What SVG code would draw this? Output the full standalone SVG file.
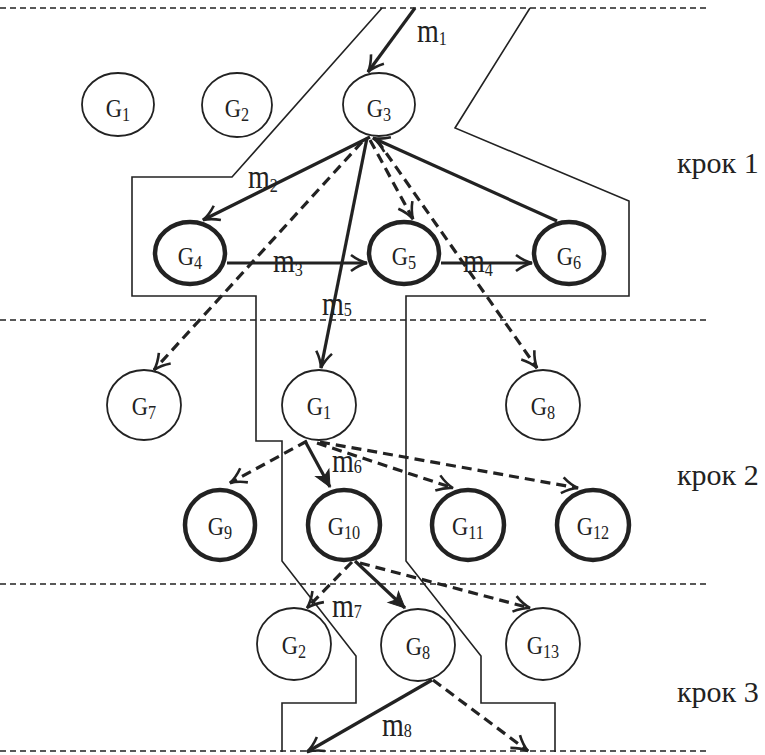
<svg xmlns="http://www.w3.org/2000/svg" width="765" height="755" viewBox="0 0 765 755">
<defs>
<style>
.sep{stroke:#222;stroke-width:1.6;stroke-dasharray:6,4;fill:none}
.out{stroke:#222;stroke-width:1.6;fill:none}
.n{fill:#fff;stroke:#222;stroke-width:1.8}
.b{fill:#fff;stroke:#222;stroke-width:4.5}
.c{stroke:#222;stroke-width:3.2;fill:none;marker-end:url(#ah)}
.d{stroke:#222;stroke-width:3.2;fill:none;stroke-dasharray:10,6;marker-end:url(#ah)}
.f{stroke:#222;stroke-width:3.2;fill:none;marker-end:url(#af)}
text{font-family:"Liberation Serif","Times New Roman",serif;fill:#222}
.g{font-size:25px;text-anchor:middle}
.g tspan{font-size:18px}
.m{font-size:33px}
.m tspan{font-size:19px}
.k{font-size:30px}
</style>
<marker id="ah" markerUnits="userSpaceOnUse" markerWidth="20" markerHeight="20" refX="16" refY="8" orient="auto" overflow="visible">
<path d="M0,0 Q8,6 16,8 Q8,10 0,16" fill="none" stroke="#222" stroke-width="2.6"/>
</marker>
<marker id="af" markerUnits="userSpaceOnUse" markerWidth="20" markerHeight="20" refX="16" refY="8" orient="auto" overflow="visible">
<path d="M0,0.5 L16,8 L0,15.5 L4,8 z" fill="#222" stroke="#222" stroke-width="1"/>
</marker>
</defs>

<g id="separators">
<line class="sep" x1="0" y1="8" x2="706" y2="8"/>
<line class="sep" x1="0" y1="320" x2="706" y2="320"/>
<line class="sep" x1="0" y1="584" x2="706" y2="584"/>
<line class="sep" x1="0" y1="751" x2="706" y2="751"/>
</g>

<g id="outline">
<path class="out" d="M382,8 L232,177 L132,177 L132,296 L256,296 L256,441 L282,441 L282,561 L356,656 L356,703 L282,703 L282,752"/>
<path class="out" d="M530,8 L455,128 L629,201 L629,296 L406,296 L406,561 L481,656 L481,703 L555,703 L555,752"/>
</g>

<g id="step-labels">
<text class="k" x="677" y="173">крок 1</text>
<text class="k" x="677" y="485">крок 2</text>
<text class="k" x="677" y="702">крок 3</text>
</g>

<g id="connectors">
<line class="c" x1="415" y1="8" x2="368" y2="72"/>
<line class="c" x1="370" y1="137" x2="203" y2="220"/>
<line class="d" x1="362" y1="142" x2="154" y2="370"/>
<line class="c" x1="367" y1="138" x2="321" y2="368"/>
<line class="d" x1="370" y1="140" x2="413" y2="219"/>
<line class="d" x1="377" y1="140" x2="537" y2="368"/>
<line class="c" x1="557" y1="221" x2="373" y2="138"/>
<line class="c" x1="227" y1="263" x2="367" y2="263"/>
<line class="c" x1="441" y1="263" x2="532" y2="263"/>
<line class="d" x1="307" y1="441" x2="230" y2="483"/>
<line class="f" x1="305" y1="441" x2="330" y2="487"/>
<line class="d" x1="317" y1="443" x2="453" y2="488"/>
<line class="d" x1="320" y1="442" x2="578" y2="488"/>
<line class="d" x1="352" y1="562" x2="307" y2="608"/>
<line class="f" x1="355" y1="561" x2="405" y2="608"/>
<line class="d" x1="360" y1="563" x2="530" y2="608"/>
<line class="c" x1="432" y1="680" x2="307" y2="752"/>
<line class="d" x1="433" y1="680" x2="528" y2="751"/>
</g>

<g id="connector-labels">
<text class="m" transform="translate(417,42) scale(0.85,1)">m<tspan dy="3">1</tspan></text>
<text class="m" transform="translate(248,188) scale(0.85,1)">m<tspan dy="4">2</tspan></text>
<text class="m" transform="translate(273,272) scale(0.85,1)">m<tspan dy="4">3</tspan></text>
<text class="m" transform="translate(463,272) scale(0.85,1)">m<tspan dy="4">4</tspan></text>
<text class="m" transform="translate(322,315) scale(0.85,1)">m<tspan dy="1">5</tspan></text>
<text class="m" transform="translate(332,472) scale(0.85,1)">m<tspan dy="1">6</tspan></text>
<text class="m" transform="translate(332,617) scale(0.85,1)">m<tspan dy="1">7</tspan></text>
<text class="m" transform="translate(382,736) scale(0.85,1)">m<tspan dy="1">8</tspan></text>
</g>

<g id="node-G1a"><ellipse class="n" cx="118" cy="104.5" rx="36" ry="31.5"/><text class="g" transform="translate(118,117) scale(0.9,1)">G<tspan dy="4">1</tspan></text></g>
<g id="node-G2a"><ellipse class="n" cx="237" cy="105" rx="35" ry="32"/><text class="g" transform="translate(237,117) scale(0.9,1)">G<tspan dy="4">2</tspan></text></g>
<g id="node-G3"><ellipse class="n" cx="379" cy="104.5" rx="36" ry="31.5"/><text class="g" transform="translate(379,117) scale(0.9,1)">G<tspan dy="4">3</tspan></text></g>
<g id="node-G4"><ellipse class="b" cx="190" cy="253" rx="35" ry="31"/><text class="g" transform="translate(190,265) scale(0.9,1)">G<tspan dy="4">4</tspan></text></g>
<g id="node-G5"><ellipse class="b" cx="404" cy="253" rx="35" ry="31"/><text class="g" transform="translate(404,265) scale(0.9,1)">G<tspan dy="4">5</tspan></text></g>
<g id="node-G6"><ellipse class="b" cx="569" cy="253" rx="35" ry="31"/><text class="g" transform="translate(569,265) scale(0.9,1)">G<tspan dy="4">6</tspan></text></g>
<g id="node-G7"><ellipse class="n" cx="144" cy="405" rx="37" ry="35"/><text class="g" transform="translate(144,415) scale(0.9,1)">G<tspan dy="4">7</tspan></text></g>
<g id="node-G1b"><ellipse class="n" cx="319" cy="405" rx="37" ry="35"/><text class="g" transform="translate(319,415) scale(0.9,1)">G<tspan dy="4">1</tspan></text></g>
<g id="node-G8a"><ellipse class="n" cx="543" cy="405" rx="37" ry="35"/><text class="g" transform="translate(543,415) scale(0.9,1)">G<tspan dy="4">8</tspan></text></g>
<g id="node-G9"><ellipse class="b" cx="220" cy="525" rx="35" ry="35"/><text class="g" transform="translate(220,535) scale(0.9,1)">G<tspan dy="4">9</tspan></text></g>
<g id="node-G10"><ellipse class="b" cx="344" cy="525" rx="36" ry="35"/><text class="g" transform="translate(344,535) scale(0.9,1)">G<tspan dy="4">10</tspan></text></g>
<g id="node-G11"><ellipse class="b" cx="468" cy="525" rx="36" ry="35"/><text class="g" transform="translate(468,535) scale(0.9,1)">G<tspan dy="4">11</tspan></text></g>
<g id="node-G12"><ellipse class="b" cx="593" cy="525" rx="36" ry="35"/><text class="g" transform="translate(593,535) scale(0.9,1)">G<tspan dy="4">12</tspan></text></g>
<g id="node-G2b"><ellipse class="n" cx="294" cy="644" rx="37" ry="36"/><text class="g" transform="translate(294,654) scale(0.9,1)">G<tspan dy="4">2</tspan></text></g>
<g id="node-G8b"><ellipse class="n" cx="418" cy="645" rx="37" ry="36"/><text class="g" transform="translate(418,655) scale(0.9,1)">G<tspan dy="4">8</tspan></text></g>
<g id="node-G13"><ellipse class="n" cx="543" cy="644" rx="37" ry="36"/><text class="g" transform="translate(543,654) scale(0.9,1)">G<tspan dy="4">13</tspan></text></g>
</svg>
